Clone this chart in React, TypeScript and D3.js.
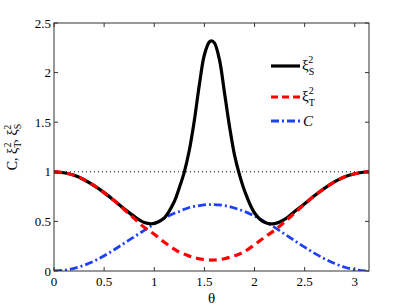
import * as d3 from 'd3';

// theta grid (radians) and the three curves
const theta = [
  0, 0.1, 0.2, 0.3, 0.4, 0.5, 0.6, 0.7, 0.8, 0.9, 1.0, 1.1, 1.2,
  1.25, 1.3, 1.35, 1.4, 1.45, 1.5, 1.55, 1.57, 1.6, 1.65, 1.7, 1.75, 1.8, 1.85, 1.9,
  2.0, 2.1, 2.2, 2.3, 2.4, 2.5, 2.6, 2.7, 2.8, 2.9, 3.0, 3.1, 3.1416,
];
const xiS2 = [
  1.0, 0.99, 0.965, 0.92, 0.86, 0.79, 0.71, 0.627, 0.55, 0.488, 0.48, 0.535, 0.7,
  0.84, 1.0, 1.22, 1.52, 1.88, 2.18, 2.31, 2.32, 2.3, 2.13, 1.8, 1.46, 1.17, 0.97, 0.81,
  0.585, 0.49, 0.478, 0.52, 0.6, 0.678, 0.76, 0.835, 0.9, 0.95, 0.98, 0.998, 1.0,
];
const xiT2 = [
  1.0, 0.99, 0.965, 0.92, 0.86, 0.79, 0.71, 0.62, 0.53, 0.44, 0.37, 0.29, 0.22,
  0.19, 0.17, 0.15, 0.135, 0.122, 0.115, 0.111, 0.11, 0.111, 0.116, 0.124, 0.137, 0.153, 0.172, 0.195,
  0.265, 0.34, 0.41, 0.495, 0.585, 0.675, 0.76, 0.835, 0.9, 0.95, 0.98, 0.998, 1.0,
];
const concurrence = [
  0, 0.007, 0.026, 0.058, 0.1, 0.154, 0.214, 0.28, 0.345, 0.41, 0.474, 0.532, 0.582,
  0.6, 0.622, 0.64, 0.651, 0.66, 0.667, 0.67, 0.67, 0.67, 0.666, 0.659, 0.65, 0.635, 0.618, 0.6,
  0.554, 0.498, 0.44, 0.373, 0.306, 0.24, 0.178, 0.122, 0.075, 0.038, 0.013, 0.001, 0,
];
const xTicks = [0, 0.5, 1, 1.5, 2, 2.5, 3];
const yTicks = [0, 0.5, 1, 1.5, 2, 2.5];

const W = 408;
const H = 308;
const margin = { top: 23, right: 39, bottom: 37, left: 54 };
const FONT = '"Liberation Serif", "Times New Roman", serif';

export default function App() {
  const x = d3.scaleLinear().domain([0, Math.PI]).range([margin.left, W - margin.right]);
  const y = d3.scaleLinear().domain([0, 2.5]).range([H - margin.bottom, margin.top]);

  const mk = (vals: number[]) =>
    d3
      .line<number>()
      .x((_, i) => x(theta[i]))
      .y((d) => y(d))
      .curve(d3.curveCatmullRom.alpha(0.5))(vals) as string;

  const x0 = x.range()[0];
  const x1 = x.range()[1];
  const y0 = y.range()[0];
  const y1 = y.range()[1];
  const tl = 4;

  return (
    <svg
      width={W}
      height={H}
      style={{ position: 'fixed', left: 0, top: 0, background: '#fff' }}
      fontFamily={FONT}
    >
      <defs>
        <clipPath id="plot">
          <rect x={x0} y={y1} width={x1 - x0} height={y0 - y1} />
        </clipPath>
      </defs>

      {/* dotted reference line at 1 */}
      <line
        x1={x0}
        x2={x1}
        y1={y(1)}
        y2={y(1)}
        stroke="#000"
        strokeWidth={1}
        strokeDasharray="1 3"
      />

      <g clipPath="url(#plot)" fill="none" strokeLinejoin="round">
        <path d={mk(concurrence)} stroke="#1f3fff" strokeWidth={2.8} strokeDasharray="8 3 2 3" />
        <path d={mk(xiS2)} stroke="#000" strokeWidth={3.2} />
        <path d={mk(xiT2)} stroke="#ff0000" strokeWidth={3.2} strokeDasharray="8 5" />
      </g>

      {/* box */}
      <rect x={x0} y={y1} width={x1 - x0} height={y0 - y1} fill="none" stroke="#333" strokeWidth={1} />

      {/* ticks */}
      {xTicks.map((t) => (
        <g key={'x' + t}>
          <line x1={x(t)} x2={x(t)} y1={y0} y2={y0 - tl} stroke="#333" />
          <line x1={x(t)} x2={x(t)} y1={y1} y2={y1 + tl} stroke="#333" />
          <text x={x(t)} y={y0 + 15} textAnchor="middle" fontSize={13} fill="#000">
            {t}
          </text>
        </g>
      ))}
      {yTicks.map((t) => (
        <g key={'y' + t}>
          <line x1={x0} x2={x0 + tl} y1={y(t)} y2={y(t)} stroke="#333" />
          <line x1={x1} x2={x1 - tl} y1={y(t)} y2={y(t)} stroke="#333" />
          <text x={x0 - 3} y={y(t) + 4.5} textAnchor="end" fontSize={13} fill="#000">
            {t}
          </text>
        </g>
      ))}

      {/* axis labels */}
      <text x={(x0 + x1) / 2} y={H - 5} textAnchor="middle" fontSize={15} fill="#000">
        θ
      </text>
      <text
        transform={`translate(17,${(y0 + y1) / 2}) rotate(-90)`}
        textAnchor="middle"
        fontSize={14}
        fill="#000"
      >
        C, ξ
        <tspan fontSize={10} dy={4}>T</tspan>
        <tspan fontSize={10} dx={-6} dy={-10}>2</tspan>
        <tspan dy={6}>, ξ</tspan>
        <tspan fontSize={10} dy={4}>S</tspan>
        <tspan fontSize={10} dx={-6} dy={-10}>2</tspan>
      </text>

      {/* legend */}
      <g fontSize={15} fill="#000">
        <line x1={271} x2={300} y1={66} y2={66} stroke="#000" strokeWidth={3.2} />
        <text x={302} y={70}>
          ξ<tspan fontSize={10} dy={5}>S</tspan>
          <tspan fontSize={10} dx={-6} dy={-12}>2</tspan>
        </text>
        <line x1={271} x2={300} y1={97} y2={97} stroke="#ff0000" strokeWidth={3.2} strokeDasharray="7 4" />
        <text x={302} y={101}>
          ξ<tspan fontSize={10} dy={5}>T</tspan>
          <tspan fontSize={10} dx={-6} dy={-12}>2</tspan>
        </text>
        <line x1={271} x2={300} y1={121} y2={121} stroke="#1f3fff" strokeWidth={2.8} strokeDasharray="8 3 2 3" />
        <text x={303} y={126} fontStyle="italic">
          C
        </text>
      </g>
    </svg>
  );
}
